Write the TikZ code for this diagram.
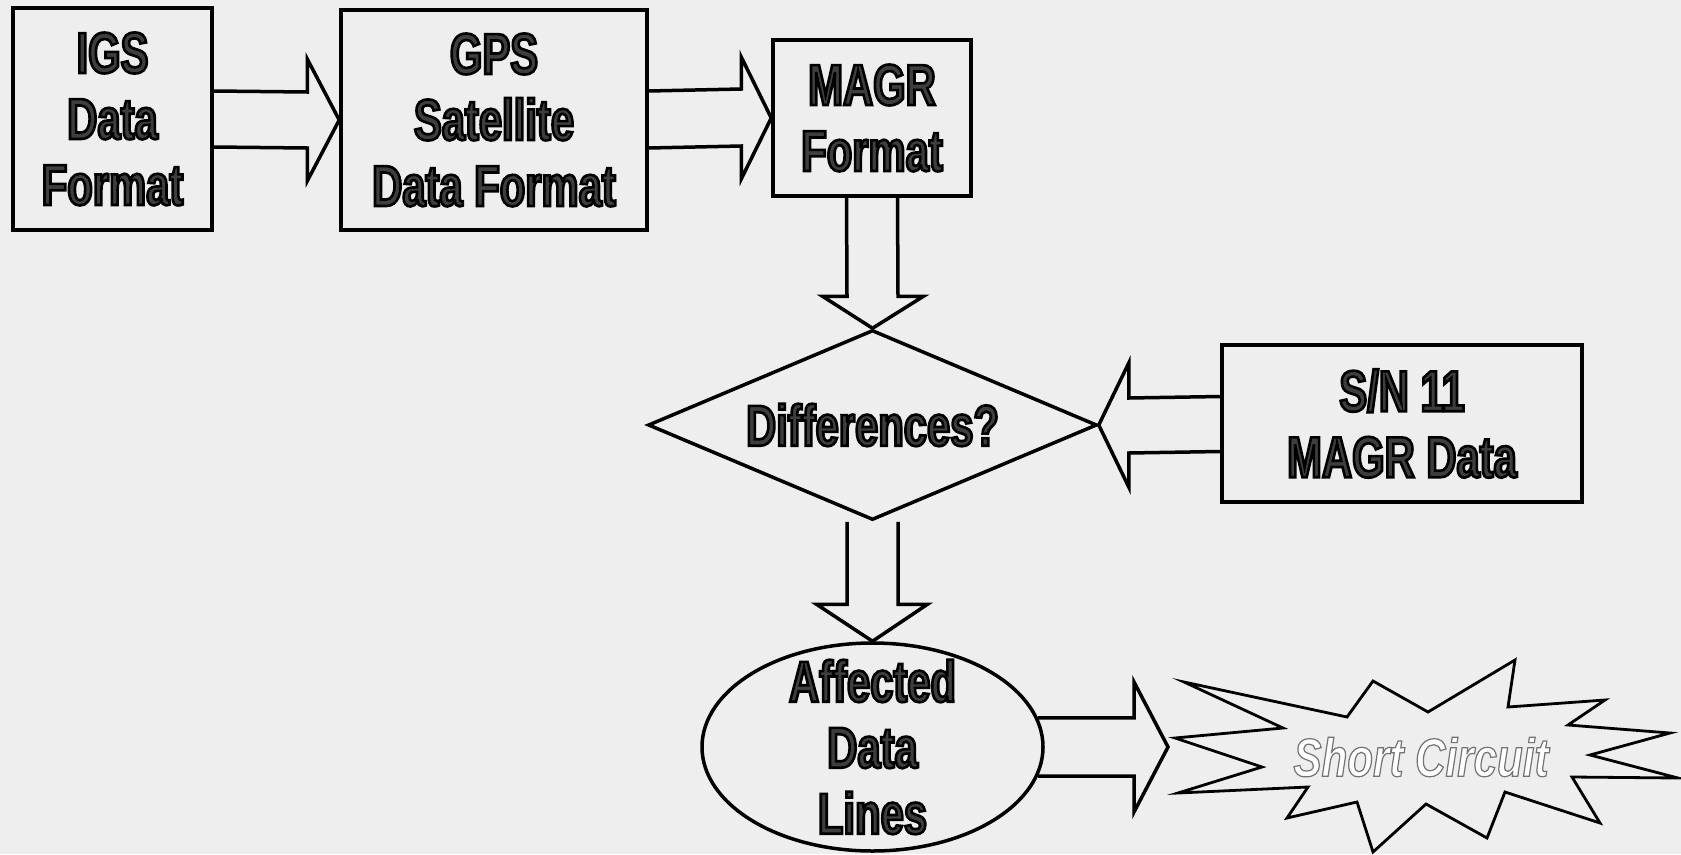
\documentclass[tikz,border=0pt]{standalone}
\usepackage{fontspec}
\usetikzlibrary{shapes.geometric,calc}
\newfontfamily\impfont{Liberation Sans}[FakeStretch=0.72]
\newfontfamily\scfont{Liberation Sans}[FakeStretch=0.78]
\definecolor{bgpaper}{RGB}{238,238,238}
\definecolor{txtgray}{RGB}{62,62,62}
\newcommand{\heavytext}{\special{pdf:literal direct 2 Tr 2.6 w 0 G}}
\newcommand{\hollowtext}{\special{pdf:literal direct 2 Tr 1.2 w 0.45 G}}
\begin{document}
\begin{tikzpicture}[x=1pt,y=-1pt,
  lbl/.style={font=\impfont\bfseries\fontsize{58}{66}\selectfont,text=txtgray,align=center},
  box/.style={lbl,draw=black,line width=3.5pt,inner sep=0pt,rectangle},
  blk/.style={draw=black,line width=3.5pt,line join=miter},
  starline/.style={draw=black,line width=2.8pt,line join=miter,fill=bgpaper},
]
\useasboundingbox[fill=bgpaper] (0,0) rectangle (1681,854);

% nodes
\node[box,minimum width=199pt,minimum height=222pt] (igs) at (112.5,119) {\heavytext IGS\\Data\\Format};
\node[box,minimum width=306pt,minimum height=220pt] (gps) at (494,120) {\heavytext GPS\\Satellite\\Data Format};
\node[box,minimum width=198pt,minimum height=156pt] (magr) at (872,118) {\heavytext MAGR\\Format};
\node[lbl,draw=black,line width=3.5pt,diamond,aspect=2.363,inner sep=0pt,
      minimum width=449pt,minimum height=190pt] (diff) at (872.5,425) {\heavytext Differences?};
\node[box,minimum width=360pt,minimum height=157pt] (sn) at (1402,423.5) {\heavytext S/N 11\\MAGR Data};
\node[lbl,draw=black,line width=3.5pt,ellipse,inner sep=-22pt,
      minimum width=341pt,minimum height=208pt] (ell) at (872.5,747) {\heavytext Affected\\Data\\Lines};

% star burst
\draw[starline] (1184,682) -- (1283,728) -- (1175,738) -- (1262,767) -- (1178,793)
  -- (1308,787) -- (1287,818) -- (1357,802) -- (1373,852) -- (1426,804)
  -- (1487,838) -- (1505,792) -- (1600,823) -- (1572,777) -- (1678,778)
  -- (1590,755) -- (1670,733) -- (1568,725) -- (1605,700) -- (1508,707)
  -- (1515,660) -- (1428,712) -- (1373,681) -- (1347,717) -- cycle;
\node[font=\scfont\bfseries\itshape\fontsize{54}{60}\selectfont,text=white] (sc) at (1421,757) {\hollowtext Short Circuit};
\coordinate (sctip) at (1168,747);

% block arrows
\draw[blk] ($(igs.east)+(0,-28)$) -- ($(gps.west)+(-32,-28)$) -- ($(gps.west)+(-32,-61)$)
  -- (gps.west) -- ($(gps.west)+(-32,61)$) -- ($(gps.west)+(-32,28)$) -- ($(igs.east)+(0,28)$);
\draw[blk] ($(gps.east)+(0,-29)$) -- ($(magr.west)+(-30,-29)$) -- ($(magr.west)+(-30,-61)$)
  -- (magr.west) -- ($(magr.west)+(-30,61)$) -- ($(magr.west)+(-30,28)$) -- ($(gps.east)+(0,28)$);
\draw[blk] ($(magr.south)+(-25.5,0)$) -- ($(diff.north)+(-25.5,-32)$) -- ($(diff.north)+(-50,-32)$)
  -- (diff.north) -- ($(diff.north)+(51,-32)$) -- ($(diff.north)+(25.5,-32)$) -- ($(magr.south)+(25.5,0)$);
\draw[blk] ($(diff.south)+(-25.5,0)$) -- ($(ell.north)+(-25.5,-37)$) -- ($(ell.north)+(-56,-37)$)
  -- (ell.north) -- ($(ell.north)+(55,-37)$) -- ($(ell.north)+(25.5,-37)$) -- ($(diff.south)+(25.5,0)$);
\draw[blk] ($(sn.west)+(0,-27)$) -- ($(diff.east)+(30,-27)$) -- ($(diff.east)+(30,-62)$)
  -- (diff.east) -- ($(diff.east)+(30,62)$) -- ($(diff.east)+(30,28)$) -- ($(sn.west)+(0,28)$);
\coordinate (schb) at ($(sctip)+(-34,0)$);
\draw[blk] (ell.10) -- (ell.10 -| schb) -- ($(schb)+(0,-65)$) -- (sctip)
  -- ($(schb)+(0,65)$) -- (ell.-10 -| schb) -- (ell.-10);
\end{tikzpicture}
\end{document}
